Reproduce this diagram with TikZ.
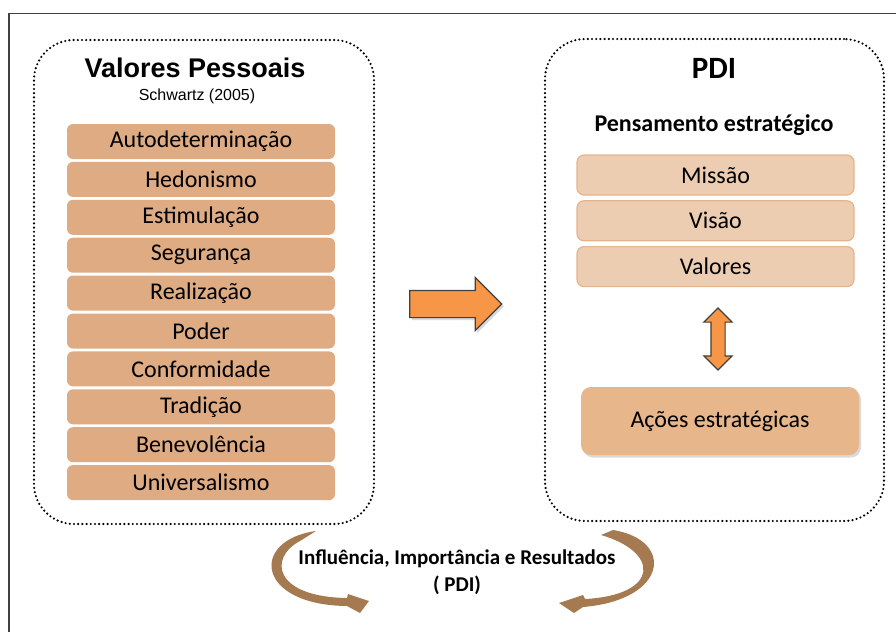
\documentclass[tikz,border=0pt]{standalone}
\usepackage{fontspec}
\setmainfont{Carlito}
\newfontfamily\arialfont{Liberation Sans}
\definecolor{valtan}{RGB}{222, 171, 131}
\definecolor{pdilight}{RGB}{236, 205, 178}
\definecolor{pdiedge}{RGB}{229, 180, 140}
\definecolor{acaotan}{RGB}{231, 182, 139}
\definecolor{arroworange}{RGB}{247, 150, 70}
\definecolor{arrowedge}{RGB}{64, 64, 64}
\definecolor{curvebrown}{RGB}{165, 122, 80}
\usepackage{tikz}
\usetikzlibrary{shapes, arrows.meta, positioning, shadows}

\begin{document}
\begin{tikzpicture}[x=1pt, y=-1pt,
  groupbox/.style={draw, line width=2.4pt, line cap=round, dash pattern=on 0pt off 4.2pt, rounded corners=40pt, inner sep=0pt},
  valbox/.style={fill=valtan, rounded corners=6pt, minimum width=268pt, minimum height=35pt, inner sep=0pt, font=\fontsize{24}{26}\selectfont},
  pdibox/.style={fill=pdilight, draw=pdiedge, line width=1.2pt, rounded corners=7pt, minimum width=277pt, minimum height=40pt, inner sep=0pt, font=\fontsize{24}{26}\selectfont},
  shadowed/.style={drop shadow={opacity=0.3, shadow xshift=2pt, shadow yshift=-2.5pt}},
]
  \useasboundingbox (0,0) rectangle (896,632);
  % frame of the slide
  \draw[arrowedge, line width=1.5pt] (896,13.5) -- (9,13.5) -- (9,632);

  % left group: personal values
  \node[groupbox, minimum width=340pt, minimum height=484pt] (pessoais) at (204,282) {};
  \node[font=\arialfont\bfseries\fontsize{27}{30}\selectfont] (pessoaistitle) at (195,68) {Valores Pessoais};
  \node[font=\arialfont\fontsize{16}{18}\selectfont] (schwartz) at (197,96) {Schwartz (2005)};
  \foreach \val [count=\i] in {Autodeterminação, Hedonismo, Estimulação, Segurança, Realização, Poder, Conformidade, Tradição, Benevolência, Universalismo}
    \node[valbox] (val\i) at (201,{141.5+(\i-1)*37.9}) {\val};

  % transition arrow
  \node[single arrow, fill=arroworange, draw=arrowedge, line width=1.2pt, minimum height=92pt, single arrow head extend=13pt, inner xsep=0pt, inner ysep=13pt, shadowed] (flow) at (449,304) {};

  % right group: PDI
  \node[groupbox, minimum width=339pt, minimum height=482pt] (pdi) at (714.5,280) {};
  \node[font=\bfseries\fontsize{31}{34}\selectfont] (pdititle) at (714,68) {PDI};
  \node[font=\bfseries\fontsize{24}{26}\selectfont] (pensamento) at (714,125) {Pensamento estratégico};
  \foreach \item [count=\i] in {Missão, Visão, Valores}
    \node[pdibox] (pdi\i) at (715.5,{175+(\i-1)*45.8}) {\item};
  \node[double arrow, rotate=90, fill=arroworange, draw=arrowedge, line width=1.2pt, minimum height=62pt, double arrow head extend=7pt, inner xsep=0pt, inner ysep=6.5pt] (link) at (718,339) {};
  \node[fill=acaotan, rounded corners=10pt, minimum width=278pt, minimum height=68pt, inner sep=0pt, font=\fontsize{24}{26}\selectfont, shadowed] (acoes) at (720,421) {Ações estratégicas};

  % curved arrows round the caption
  \fill[curvebrown] (316,531) .. controls (250,540) and (255,605) .. (347,606)
    -- (360,613) -- (369,601) -- (348,594) -- (347,598)
    .. controls (274,597) and (268,558) .. (300,541) -- cycle;
  \fill[curvebrown] (613,530) .. controls (675,540) and (668,600) .. (583,607)
    -- (574,613) -- (559,603) -- (583,595) -- (585,599)
    .. controls (660,595) and (660,552) .. (601,535) -- cycle;
  \node[align=center, font=\bfseries\fontsize{21}{27}\selectfont] (influencia) at (457,572) {Influência, Importância e Resultados\\( PDI)};
\end{tikzpicture}
\end{document}
